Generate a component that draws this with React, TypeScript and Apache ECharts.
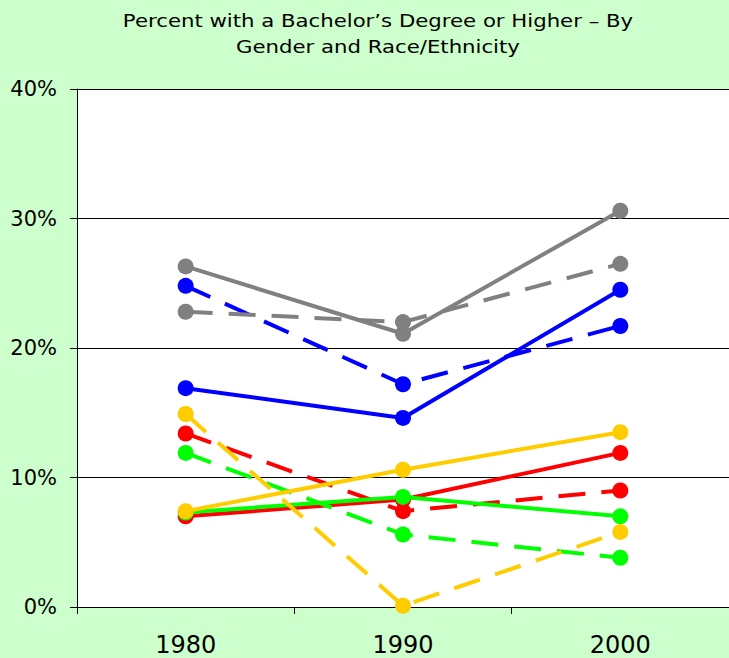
import React, { useEffect, useRef } from "react";
import * as echarts from "echarts";

const years = ["1980", "1990", "2000"];
const yTicks = [0, 10, 20, 30, 40];

const grayMale = [26.3, 21.1, 30.6];
const grayFemale = [22.8, 22.0, 26.5];
const blueMale = [16.9, 14.6, 24.5];
const blueFemale = [24.8, 17.2, 21.7];
const redMale = [7.0, 8.3, 11.9];
const redFemale = [13.4, 7.4, 9.0];
const greenMale = [7.3, 8.5, 7.0];
const greenFemale = [11.9, 5.6, 3.8];
const yellowMale = [7.4, 10.6, 13.5];
const yellowFemale = [14.9, 0.1, 5.8];

const FONT = "DejaVu Sans";

function mk(name: string, data: number[], color: string, dashed: boolean) {
  return {
    name,
    type: "line",
    data,
    clip: false,
    symbol: "circle",
    symbolSize: 16,
    itemStyle: { color },
    lineStyle: {
      color,
      width: 4,
      type: dashed ? [27, 16] : "solid",
    },
  };
}

export default function App() {
  const ref = useRef<HTMLDivElement>(null);
  useEffect(() => {
    document.body.style.margin = "0";
    const chart = echarts.init(ref.current!, null, { renderer: "svg" });
    chart.setOption({
      animation: false,
      backgroundColor: "#CCFFCC",
      graphic: [
        {
          type: "text",
          x: 378,
          y: 8,
          scaleX: 1.18,
          style: {
            text: "Percent with a Bachelor\u2019s Degree or Higher \u2013 By\nGender and Race/Ethnicity",
            fontFamily: FONT,
            fontSize: 18,
            lineHeight: 26,
            fill: "#000",
            align: "center",
          },
        },
      ],
      grid: {
        left: 77,
        top: 89,
        bottom: 51,
        width: 657,
        show: true,
        backgroundColor: "#fff",
        borderWidth: 0,
      },
      xAxis: {
        type: "category",
        data: years,
        boundaryGap: true,
        axisLine: { lineStyle: { color: "#000", width: 1 } },
        axisTick: { show: true, length: 7, lineStyle: { color: "#000" } },
        axisLabel: {
          fontFamily: FONT,
          fontSize: 24,
          color: "#000",
          margin: 26,
        },
        splitLine: { show: false },
      },
      yAxis: {
        type: "value",
        min: yTicks[0],
        max: yTicks[yTicks.length - 1],
        interval: 10,
        axisLine: { show: true, lineStyle: { color: "#000", width: 1 } },
        axisTick: { show: true, length: 7, lineStyle: { color: "#000" } },
        axisLabel: {
          fontFamily: FONT,
          fontSize: 21,
          color: "#000",
          margin: 20,
          formatter: "{value}%",
        },
        splitLine: { show: true, lineStyle: { color: "#000", width: 1 } },
      },
      series: [
        mk("Red Male", redMale, "#FF0000", false),
        mk("Red Female", redFemale, "#FF0000", true),
        mk("Green Male", greenMale, "#00FF00", false),
        mk("Green Female", greenFemale, "#00FF00", true),
        mk("Yellow Female", yellowFemale, "#FFCC00", true),
        mk("Yellow Male", yellowMale, "#FFCC00", false),
        mk("Blue Male", blueMale, "#0000FF", false),
        mk("Blue Female", blueFemale, "#0000FF", true),
        mk("Gray Female", grayFemale, "#808080", true),
        mk("Gray Male", grayMale, "#808080", false),
      ],
    });
    return () => chart.dispose();
  }, []);
  return <div ref={ref} style={{ width: 729, height: 658 }} />;
}
